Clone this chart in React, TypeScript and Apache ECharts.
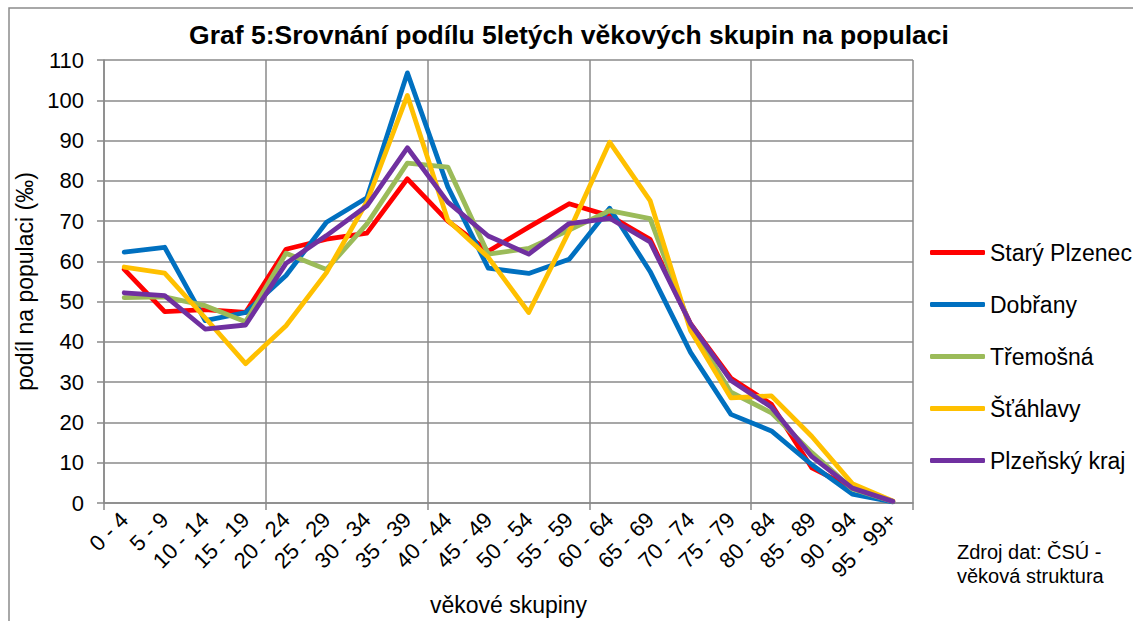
import React, { useEffect, useRef } from "react";
import * as echarts from "echarts";

const categories = [
  "0 - 4", "5 - 9", "10 - 14", "15 - 19", "20 - 24", "25 - 29", "30 - 34",
  "35 - 39", "40 - 44", "45 - 49", "50 - 54", "55 - 59", "60 - 64", "65 - 69",
  "70 - 74", "75 - 79", "80 - 84", "85 - 89", "90 - 94", "95 - 99+",
];

const staryPlzenec = [58, 47.5, 48, 47.3, 63, 65.5, 67, 80.5, 70, 62.5, 68.5, 74.3, 71.3, 65.5, 44.5, 31, 24.5, 8.7, 3.7, 0.4];
const dobrany = [62.3, 63.5, 45.3, 47.3, 56.5, 69.7, 75.8, 106.8, 78.5, 58.3, 57, 60.5, 73.2, 57.5, 37.4, 22, 17.9, 9.5, 2.2, 0.3];
const tremosna = [51, 51.2, 49, 45, 62, 58, 69.3, 84.4, 83.4, 61.8, 63.2, 67.8, 72.6, 70.6, 43.8, 27.5, 22.4, 12.5, 3.5, 0.4];
const stahlavy = [58.6, 57.1, 46, 34.6, 44, 57.2, 74.8, 101.2, 70.2, 61, 47.3, 67.5, 89.6, 75.1, 42.8, 26.1, 26.6, 16.5, 4.8, 0.5];
const plzenskyKraj = [52.2, 51.5, 43.2, 44.2, 59.5, 66.4, 73.8, 88.2, 74.7, 66.3, 61.8, 69.4, 70.7, 64.8, 44.5, 30.4, 23.8, 11.5, 3.7, 0.4];

const seriesDefs = [
  { name: "Starý Plzenec", data: staryPlzenec, color: "#FF0000" },
  { name: "Dobřany", data: dobrany, color: "#0070C0" },
  { name: "Třemošná", data: tremosna, color: "#9BBB59" },
  { name: "Šťáhlavy", data: stahlavy, color: "#FFC000" },
  { name: "Plzeňský kraj", data: plzenskyKraj, color: "#7030A0" },
];

const FONT = "'Liberation Sans', Arial, sans-serif";
const GRID_COLOR = "#8a8a8a";
const everyFourth = (index: number) => index % 4 === 0;

export default function App() {
  const ref = useRef<HTMLDivElement>(null);

  useEffect(() => {
    if (!ref.current) return;
    const chart = echarts.init(ref.current, undefined, { renderer: "svg" });
    chart.setOption({
      animation: false,
      backgroundColor: "#ffffff",
      title: {
        text: "Graf 5:Srovnání podílu 5letých věkových skupin na populaci",
        left: 564,
        textAlign: "center",
        top: 16,
        textStyle: { fontFamily: FONT, fontSize: 26.5, fontWeight: "bold", color: "#000" },
      },
      graphic: [
        {
          type: "rect",
          shape: { x: 9, y: 8, width: 1300, height: 800 },
          style: { fill: "none", stroke: "#8c8c8c", lineWidth: 1.5 },
          silent: true,
        },
        {
          type: "text",
          left: 957,
          top: 540,
          style: {
            text: "Zdroj dat: ČSÚ -\nvěková struktura",
            fontFamily: FONT,
            fontSize: 20,
            lineHeight: 24,
            fill: "#000",
          },
        },
      ],
      legend: {
        orient: "vertical",
        left: 925,
        top: 235,
        itemWidth: 55,
        itemHeight: 5,
        itemGap: 27,
        icon: "roundRect",
        selectedMode: false,
        textStyle: { fontFamily: FONT, fontSize: 23, color: "#000", lineHeight: 25 },
        data: seriesDefs.map((s) => s.name),
      },
      grid: { left: 104, right: 220, top: 60, bottom: 112, containLabel: false },
      xAxis: {
        type: "category",
        data: categories,
        boundaryGap: true,
        name: "věkové skupiny",
        nameLocation: "middle",
        nameGap: 90,
        nameTextStyle: { fontFamily: FONT, fontSize: 23, color: "#000" },
        axisLine: { show: true, lineStyle: { color: GRID_COLOR, width: 1.5 } },
        axisTick: { show: true, interval: everyFourth, length: 7, lineStyle: { color: GRID_COLOR, width: 1.5 } },
        splitLine: { show: true, interval: everyFourth, lineStyle: { color: GRID_COLOR, width: 1.5 } },
        axisLabel: {
          interval: 0,
          rotate: 45,
          margin: 13,
          fontFamily: FONT,
          fontSize: 22,
          color: "#000",
        },
      },
      yAxis: {
        type: "value",
        min: 0,
        max: 110,
        interval: 10,
        name: "podíl na populaci (‰)",
        nameLocation: "middle",
        nameGap: 58,
        nameTextStyle: { fontFamily: FONT, fontSize: 23, color: "#000" },
        axisLine: { show: true, lineStyle: { color: GRID_COLOR, width: 1.5 } },
        axisTick: { show: true, length: 7, lineStyle: { color: GRID_COLOR, width: 1.5 } },
        splitLine: { show: true, lineStyle: { color: GRID_COLOR, width: 1.5 } },
        axisLabel: { margin: 20, fontFamily: FONT, fontSize: 22, color: "#000" },
      },
      series: seriesDefs.map((s) => ({
        name: s.name,
        type: "line",
        data: s.data,
        showSymbol: false,
        symbol: "none",
        color: s.color,
        itemStyle: { color: s.color },
        lineStyle: { color: s.color, width: 4.8, cap: "round", join: "round" },
      })),
    });
    return () => chart.dispose();
  }, []);

  return (
    <div
      ref={ref}
      style={{ position: "fixed", left: 0, top: 0, width: 1133, height: 621 }}
    />
  );
}
